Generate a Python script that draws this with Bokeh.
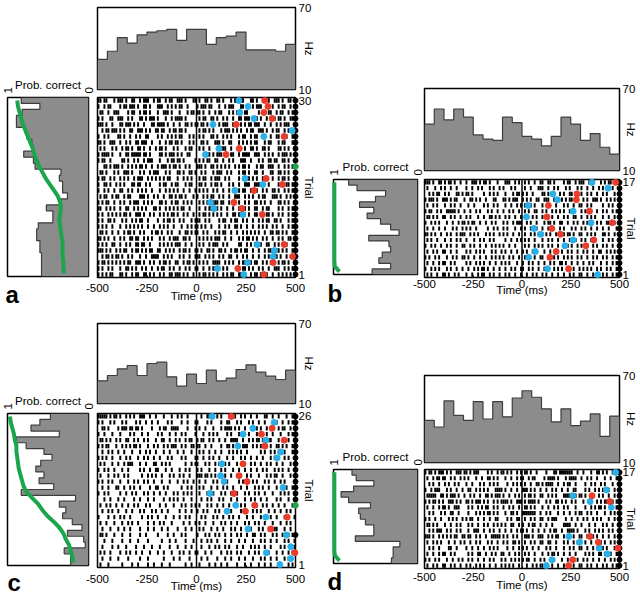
import math
from bokeh.plotting import figure
from bokeh.layouts import row, column
from bokeh.models import FixedTicker, LinearAxis, Range1d, Span
from bokeh.embed import file_html
from bokeh.resources import INLINE

FONT = "Liberation Sans"
FS = "11.5px"
GRAY = "#8c8c8c"
GRAY_LINE = "#3d3d3d"
BLUE = "#29b0e8"
RED = "#eb3c2b"
GREEN = "#1ba64c"

# ---------------- shared axis data ----------------
TIME_TICKS = [-500, -250, 0, 250, 500]
BIN_EDGES = [-500, -450, -400, -350, -300, -250, -200, -150, -100, -50, 0,
             50, 100, 150, 200, 250, 300, 350, 400, 450, 500]
HZ_RANGE = [10, 70]
PROB_TICKS = [0, 1]
SPIKE_BIN_MS = 10
TRIAL_END_MS = 500

# ---------------- panel a ----------------
hist_a = [32, 38, 48, 44, 50, 52, 53, 54, 46, 54, 54, 43, 48, 49, 52, 39, 39, 39, 38, 43]
# listed from top trial (30) down to trial 1
prob_a = [0.83, 0.60, 0.82, 0.89, 0.89, 0.78, 0.76, 0.70, 0.68, 0.80, 0.68, 0.66, 0.34, 0.36, 0.32,
          0.32, 0.26, 0.34, 0.52, 0.44, 0.44, 0.62, 0.64, 0.64, 0.60, 0.60, 0.58, 0.58, 0.58, 0.58]
green_a = [0.88, 0.87, 0.85, 0.83, 0.81, 0.78, 0.75, 0.72, 0.69, 0.67, 0.64, 0.61, 0.57, 0.53, 0.48,
           0.43, 0.38, 0.35, 0.34, 0.35, 0.36, 0.35, 0.34, 0.33, 0.32, 0.32, 0.32, 0.31, 0.31, 0.30]
spikes_a = [
    "##.##...#. ###.#..##. .#.###..#. ##..#.##.. ###.#...## .#..##.#.. ##.#...#.# #.##...##. #..##.#..# ##.#..##..",
    "#..#.##... .#.##.###. #..##.#... ###..#.#.# .##..#.... #.###.##.. .#..#.###. ..##.#..#. ###...#.#. .#.##..#.#",
    ".##..#..## #....#.##. .#.##.#... #..###.#.. .#...#.##. ##.#..#..# .##...#.#. #.#.##.... .#..#.##.. #.##..#.#.",
    "#.#...##.. ###..#.#.. .##.#.###. #...#..#.# ###.#..... .#.##..##. #..#.#..#. .##.###... #.#..#.#.# .##.#..##.",
    "###.#..#.. .##.###.#. #..#...##. ####.#..#. .#..##.#.# #.##.#.... .#.###..## ..#.#.##.# ##..#..#.. #.#.###..#",
    "..#.##.### .#.#..##.. ###.#.#..# #.##..#.## .##.#..... .#.##.#.#. ..#.###.#. #.#..#.##. .###.#..#. ##..#.#.##",
    "#..#.#.... ##.#..#..# .#..##.... #.#..#.#.# .##...#.#. .#.#...##. #..#.#.#.. .#.##..#.# #..#...#.. ##.#.#..#.",
    "##.#..###. .#..#.#..# #.###..#.. .#..#.##.# #.#...#.#. ..##.#...# ##.#..##.. .#.#.#.#.# #...#.##.. .#.##...##",
    ".#.#...#.# ..#.##.#.. ##.#..#..# .##.#...#. #...#.##.. .#.#..#... #.###..#.. .#..#..##. #..##.#... .##.#.#..#",
    "#.####.#.. .#..##.### ##.##.#... .##.#.###. #.#..##... .....##.#. ###.#..##. .#.####..# ##..#.#.#. .#.###.#..",
    "#.##..#... ..##.#..#. #..#.###.. .#...#.##. ##.#.....# .#.#.##..# #..#..#.#. ..###..#.. .#.#..##.# #..##.#...",
    "...##.#.## #.#..#.#.# .##.#..#.. #.###.#.## .#..#.#... ###.#..##. #.#.#.#..# .#.##.#... #.##..###. .#..#.#.##",
    ".##.#...#. #..###.#.. .#.#..#.## #...#.#... ##.#..##.# ..#.#...#. ###..#.#.. .#.##.#..# #..#...##. .##.#.#..#",
    "#.##..#.#. .#.#.#..#. ###..#.#.# .#.#.##... #..#.#.#.. .#.##..#.# ##..#.#... .#.#.##.#. #..#.#..#. .#.##.#..#",
    "#..##.#..# .#.#...##. ##..#.#... .#.##..#.# #...#.##.. .##.#..#.# #.#...#.#. .#..###..# ##.#..#... .#.#.##.#.",
    "#..#.#..#. .##..#.#.. #.#.#..#.. .#..#.#.#. #..#..#..# .#.#.#..#. #..#..#.#. .#.##..#.. #..#.#..## .#..#.#.#.",
    ".#.##..#.# #..#.##... .###.#..#. #..#..##.# .##.#...#. #..#.#.##. .#.#..#..# ##..#.#.#. .#.##...## #.#..#.#..",
    "#.#.##..#. .#.#..#.## #..#.#.#.. .##.#..#.# #..#.#.#.. .#.#.#..## #.##..#.#. .#..#.#..# #.#.#..#.. .##.#.#..#",
    "##..#.#.#. .#..##..#. #.#.#...## .#..#.#.#. #.##..#... .#..#.##.# #.#..#..#. .##.#.#..# #..#.##... .#.#..#.##",
    "#.#..#.#.# .#.##.#..# ##.#..#.#. .#.#.#.##. #..#.#..#. .#.##.#.#. #.#..#..## .##.#.#..# #..#.##.#. .#.#..#.##",
    "#.#..##.#. ..#.#..#.# .##..#.... #..#.##.#. .#.#...#.# ##..#.#... .#.##..#.# #..#.#..#. .#.#.##..# #.#...#.#.",
    "#.#.#..#.. .#..#.#.#. #.#..#..#. .#.#.#..#. ..#..#.#.# #.#.#..#.. .#..#.#..# #.#..#..#. .#.#.#..#. #..#..#.#.",
    ".##.#..#.. #..#.##.#. .#.#...#.# #.#..#.#.. .#..##.#.# #..#.#...# .#.##..#.. #..#.#.#.# .#..#..##. ##.#.#..#.",
    "##.#.#..#. .#.#..##.# #..#.#.#.. .#.#..#.## #..##.#... .#.#.#.#.# ##..#..#.. .#.#.##.#. #..#.#..#. .#.#..##.#",
    "#.#.#..##. .#..#.#..# #.##..#... .#.#.#.#.# ##..#..#.. .#.#..#.## #..#.#.... .##..#.#.# #.#..##..# .#.#.#..#.",
    "###.#.#..# .#.##..#.# #.#.#.##.. ##..#.#.#. .#.##.#..# #.#..##.#. .##.#..#.# #.#.##..#. .#..#.##.# ##.#.#..#.",
    "..#.##.#.# #.#..#.#.. .#..#..### #..#.#.#.. .#.#..#..# ##..#.#.#. .#.#..##.. #..#.#..#. .#..#.#.## #.#..#..#.",
    "#.##.#.#.# .#.#.##..# ##.#..#.#. .#.##.#..# #..#.##.#. .#.#.#..## ##..#.#.#. .#.##..#.# #..#.#.##. .#.##.#..#",
    "#.#..#.#.. .#..##.#.# ..#.#..#.. #.##..#.#. .#..#.#..# #..#..#.## .#.#.#.... #..##.#.#. .#.#..#..# ##..#.#.#.",
    "#.#.#.##.. .##.#..#.# #..##.#.#. .#.#..##.# ##.#.#..#. .#.##.#.#. #..#.#.##. .##.#..#.# #.#.##..#. .#.#.#.#.#",
]
blue_a_trial = [30, 29, 28, 27, 26, 25, 24, 22, 21, 17, 16, 15, 13, 12, 11, 6, 5, 4, 3, 2, 1]
blue_a_ms = [214, 260, 219, 290, 83, 483, 340, 113, 45, 245, 335, 194, 71, 88, 234, 307, 394, 387, 258, 105, 239]
red_a_trial = [30, 29, 28, 27, 26, 24, 22, 21, 17, 16, 15, 13, 12, 11, 6, 4, 3, 2, 1]
red_a_ms = [345, 361, 340, 382, 201, 443, 216, 149, 352, 434, 290, 189, 229, 332, 443, 485, 387, 209, 340]
end_a_trial = [30, 29, 28, 27, 26, 25, 24, 23, 22, 21, 20, 18, 17, 16, 15, 14, 13, 12, 11, 10,
               9, 8, 7, 6, 5, 4, 3, 2, 1]
endg_a_trial = [19]

# ---------------- panel b ----------------
hist_b = [44, 55, 47, 55, 49, 36, 33, 32, 49, 45, 35, 33, 28, 35, 49, 44, 32, 37, 27, 22]
prob_b = [0.82, 0.72, 0.38, 0.50, 0.69, 0.52, 0.60, 0.44, 0.32, 0.22, 0.58, 0.34, 0.32, 0.42, 0.46, 0.32, 0.54]
green_b = [0.99, 0.99, 0.99, 0.99, 0.99, 0.99, 0.99, 0.99, 0.99, 0.99, 0.99, 0.99, 0.99, 0.99, 0.99, 0.985, 0.93]
spikes_b = [
    "###.#..##. #.##.#..#. .#..###.#. ##.#...#.. .###..#.#. .#.#..#..# #..##.#... .#.##..#.# ##..#.#... #.#.##..##",
    ".#...#..#. #..#..#... .#..#..#.# ...#.#..#. #...#.#... .#..#...## #..#..#.#. ..#.#...#. #..#..#..# .#..#.#...",
    "..#.#.##.. #.#...##.# .##.#..... #..#.#.#.. .#...#.##. #.#..#.... ##.#..#..# .#..##.#.. #..#.#..#. .#.#...#.#",
    "#.###.#..# ##.#.##... #..##.#.#. .#...##... ##.#.###.. #.#.#..##. .###..#.#. #.#.##.#.. .#.#..###. #..#.#.#.#",
    ".#..#.#... #..#.#..#. ..#..#.... #.#..#.#.. .#..#..#.# .#..#.#... #..#...#.. .#.#..#..# #..#.#.... .#..#.#..#",
    "#.##..#.#. .#####.#.. #..#..#.#. ..#.#..#.. #..#.#..#. .#.#..##.. #.#..#.#.# .#..#.#... #.#..#..#. .#.#..#.#.",
    ".##.#.#..# #..#.#..#. .#.#...#.. #..##.#.#. .#.#..#..# ..#..#.#.. #..#.#..#. .#.#..##.. #..#.#.#.. .#..#..#.#",
    "#..#.#.#.. .#..#..#.# #.#.##..#. .#..#.#... #.#..#.### ..#.#..#.. .#.##.#..# #..#..#.#. .#.#.#..#. #..##..#..",
    ".#..#..#.. #...#.#..# .#.#..#... ..#..#.#.. #.#...#..# .#..#..#.. #..#.#...# .#...#.#.. #.#..#..#. .#..#...#.",
    "##.#.#..#. .#.#..#.## #..#.#.#.. .#.#.#..#. #.#..#..#. .#..#.#.#. #.#.#..#.. .#.##.#..# #..#.#.#.. .##.#..#.#",
    ".#.#..#... #..#..#.#. .#...#..#. #..#.#.... .#..#..#.# .#.#..#... #..#.#..#. .#..#..#.. #.#..#.#.. .#..#.#..#",
    "#..#.#..#. .#.#..#..# #..#.#..#. .#..#.#.#. #..#..#... .#.#..#.#. #..#.#..#. .#.#.#..#. #..#..#.#. .#.#..#..#",
    ".#..#.#..# #..#..#... .#.#..#.#. #...#.#..# .#..#..#.. #.#..#.#.. .#..#...#. #..#.#..#. .#.#..#..# #..#.#.#..",
    "#.#..#.#.. .#..#.#..# #.#..#..#. .#..#.#.#. #..#.#..#. .#.#..#..# #..#..#.#. .#.#.#..#. #..#..#.#. .#.#..#.#.",
    ".#..#..#.# #..#.#.... .#.#..#.#. #..#..#..# .#.#...#.. #..#.#..#. .#..#.#..# #.#..#..#. .#..#.#... #..#..#.#.",
    "#..#.#.#.. .#.#..#..# ..#..#.#.# #.#..#..#. .#..#.#..# #..#.#..#. .#.#..#.#. #..#..#..# .#.#.#..#. #..#.#..#.",
    ".#.#..#..# #.#..#.#.. .#..#..#.# #..#.#..#. .#.#..#..# ..#..#.#.. #.#..#..#. .#..#.#..# #..#..#.#. .#.#..#.#.",
]
blue_b_trial = [17, 16, 15, 14, 13, 12, 11, 10, 9, 8, 7, 6, 5, 4, 2, 1]
blue_b_ms = [359, 441, 158, 182, 31, 262, 23, 354, 61, 95, 262, 220, 68, 34, 131, 388]
red_b_trial = [17, 15, 14, 13, 12, 11, 10, 9, 8, 7, 6, 5, 4, 2]
red_b_ms = [480, 282, 279, 135, 346, 128, 463, 153, 197, 368, 327, 175, 143, 239]
end_b_trial = [17, 16, 15, 14, 13, 12, 11, 10, 9, 8, 7, 6, 5, 4, 3, 2, 1]
endg_b_trial = []

# ---------------- panel c ----------------
hist_c = [27, 31, 36, 38.5, 31, 40, 41, 30, 23, 32, 25, 35, 27, 29, 35.5, 39, 33.5, 30.5, 28, 35]
prob_c = [0.47, 0.60, 0.71, 0.36, 0.89, 0.77, 0.55, 0.45, 0.59, 0.65, 0.55, 0.61, 0.43, 0.83, 0.16,
          0.36, 0.28, 0.32, 0.20, 0.08, 0.26, 0.06, 0.04, 0.30, 0.22, 0.22]
green_c = [0.97, 0.96, 0.94, 0.92, 0.91, 0.89, 0.89, 0.88, 0.87, 0.86, 0.84, 0.82, 0.80, 0.76, 0.69,
           0.62, 0.57, 0.51, 0.43, 0.36, 0.31, 0.28, 0.24, 0.22, 0.20, 0.19]
spikes_c = [
    "#####.#.## .#..#.#.#. .###..#..# ...#...#.. #.#..#.... ..#..##.#. #.#...#..# ..#.#..#.. #...##..#. .#...#..##",
    "#.#...#.#. ..#.#....# .#..#..#.. #....#.#.. ..#..#...# #....#.#.. ..#..##... #.#...#.#. .#..#..... #..#..#.#.",
    "..##.#.... #.###.##.# #.#....#.. .#.##..### #....#...# .#..#...#. ..#.####.# .#..#..##. #.#..#.#.. .#.##..#.#",
    "#..#...#.. .#....#.#. ..#..#.... #.#...#..# ..#.#....# ...#..#.#. #....#.#.. .#.#..#... #..#.#..#. ..#...#.#.",
    ".##.#.#..# .#..##..#. #..#.#...# ..##..#..# .#..#.##.. #.##..#.#. .#..#..### #..#..#.#. ##.#..##.. .#.#..#..#",
    "#.#.##...# ..#.#.#.## .#...#..#. #..#.#.### ..#.#..##. ##..#..#.. ..#..##.#. .#.###..#. #.#..#.#.. ##.#.#..#.",
    "..#..#.#.. #..#...#.. .#..#.#..# ...#..#... #..#...#.. .#.#..#..# ..#...#.#. #.#..#.... ..#.#..#.# .#..#...#.",
    "#.#.#..#.. .#..#.#... #..#.#..#. .#...#.#.. ..#.#....# #..#..#.#. .#...#..#. ..#.#..#.. #..#...#.# .#..#.#...",
    ".#.#...#.. #..#.###.. .#..#...## ..#.#.#... ....#..#.# #...#.#..# .#..#.#... #.##...#.# ..#..#.#.. #..#...#..",
    "#..#.#..#. ..#..#.... .#.#..#..# #...#..#.. .#..#.#... #.#...#..# ..#.#...#. .#..#..#.. #..#.#...# .#.#..#...",
    ".#...#..#. #..#.#.... ..#..#.#.# ..#...#.#. .#.#..#... ###.##.#.# .#..#..#.. #.#..#.#.. .#...#.#.# #..#...#..",
    "#.#..#.#.. .#...#..#. #..#.#..#. ..#...#... #..#.#..#. .#..#...#. #..#.#.... .#.#..#.#. #...#.#..# ..#.#....#",
    "..#..#...# #..#..#.#. .#....#..# #..#.#.... ..#..#.#.. .#.#...#.. #..#.#..#. ..#..#...# .#.#..#... #..#.#..#.",
    "#..#.#.... .#..#..#.# ...#.#..#. .#..#...#. #..#.#.#.. .#...#..#. ..#.#..#.. #...#.#..# .#..#...#. ..#.#.#..#",
    "...#..#... #..#....#. .#...#..#. ...#..#.#. #..#...#.. ..#..#.#.. .#.#...#.. #...#..#.# ..#..#.... #.#...#..#",
    ".#..#.#..# ..#..#..#. #...#.#... .#..#...#. ..#.#..#.# .#...#.#.. #..#..#..# ..#.#...#. #..#.#..#. .#..#...#.",
    "..#..#.#.. #...#..#.. .#.#...#.# ..#..#.... .#..#..#.. #..#.#...# .#...#.#.. ..#..#..#. #.#...#..# ..#..#.#..",
    "#....#..#. .#.#..#... ..#..#.#.. #...#...#. .#..#.#... ..#.#...#. #..#..#.#. .#...#..#. ..#.#..#.. #...#.#..#",
    ".#..#...#. ..#..#.#.. #....#..#. .#.#...#.. ...#..#..# .#..#...#. ..#.#..#.. #...#.#..# .#..#...#. ..#..#.#..",
    "..#...#... #..#..#... .#...#..#. ..#..#.... #...#..#.. .#.#...#.. #..#...#.# ..#..#.#.. .#.#..#..# #...#..#..",
    ".##.#...#. ..#...#... .#..#..... #....#..#. ..#.#..... #...#.#..# .#..#..#.. #.#..#..## ..#.#...#. #..#..#.#.",
    "...#...#.. ..#...#... #....#.... ..#...#..# ....#...#. ..#..#.#.. #...#..#.. .#..#...#. ..#.#..#.. #...#.#..#",
    "..#....#.. #...#....# ...#...#.. .#....#... #...#..#.. ..#...#..# .#..#.#... #..#...#.# .#..#..#.. ..#.#..#.#",
    ".#.#..#... .#..#.#..# ..#...#... #..#...#.. .#.#..#..# #...#..#.. ..#..#.#.. #.#...#..# .#..#.#... #..#..#.#.",
    "..#...#... #....#.... .#...#.... ...#....#. .#....#... ..#..#.... #...#..#.. .#..#...#. ..#.#..#.. #...#.#...",
    ".#...#.... ..#....#.. #....#..#. ..#...#... ....#..#.. .#....#..# ..#..#.... #...#..#.. .#..#..#.. ..#...#.#.",
]
blue_c_trial = [26, 25, 24, 23, 22, 21, 20, 19, 18, 16, 15, 14, 13, 11, 10, 9, 7, 6, 4, 3, 2, 1]
blue_c_ms = [79, 392, 285, 235, 350, 209, 426, 407, 128, 122, 139, 437, 69, 198, 154, 350, 260, 454, 476, 353, 476, 421]
red_c_trial = [26, 24, 23, 22, 21, 18, 16, 15, 13, 11, 10, 9, 7, 3]
red_c_ms = [176, 382, 328, 443, 345, 235, 215, 255, 189, 294, 247, 458, 375, 497]
end_c_trial = [26, 25, 24, 23, 22, 21, 20, 19, 18, 17, 16, 15, 14, 13, 12, 6]
endg_c_trial = [11]

# ---------------- panel d ----------------
hist_d = [39, 34.5, 52.5, 42.5, 39, 52, 40, 52, 41.5, 54.5, 59.5, 55, 47, 38, 47, 35.5, 38.5, 43.5, 28, 42]
prob_d = [0.78, 0.73, 0.52, 0.76, 0.91, 0.82, 0.56, 0.70, 0.68, 0.62, 0.52, 0.52, 0.74, 0.21, 0.29, 0.29, 0.31]
green_d = [0.99, 0.99, 0.99, 0.99, 0.99, 0.99, 0.99, 0.99, 0.99, 0.99, 0.99, 0.99, 0.99, 0.99, 0.99, 0.985, 0.93]
spikes_d = [
    "#.##.#.### .#.#..###. ##.#.###.. ..#.#..#.# #.#.#..#.# .##.#..#.. ..#...##.# ######..#. .#...#..## .#.#..#.##",
    ".#..#.##.# #..#.#..#. #.#...#..# ..##.#.#.. .#..#..#.# #..#.##... .#.####.#. ..#.####.. #..#.#..#. ..#..#..#.",
    "..#.#..#.. #.#..#.#.. .#..#...#. #..#.#.#.. ..#..#.#.# .#..#..##. #.####..#. .#.##..#.. ..#..#.#.. #.#...#..#",
    "#..#.###.. .#.#..#..# ..##..#.#. #.#...#### .#..#..#.. ###.#.#..# ..#..#.#.. #..#..##.. ..#.#..#.# .#..#..#..",
    ".#####..## .#.###.#.. #..#.#..#. .##.#.###. #..#..#.#. .#.##.#..# #..#.#.#.. .####..#.# #.#..##..# .#..#..#.#",
    "#.#.##.#.# ..###.#.#. .##.#.###. #.#..#.#.# ###.#..### .#.####.#. ..#.#..##. #.#..#.#.. .#..##..#. #.##..#.#.",
    ".#..#..#.# #.#..###.. ..#.#..#.# .##..#.#.. #..#.#..#. .##.#.#... #..#..#.#. .#.#...#.. ..#..#.#.# #.#..#..#.",
    "..#.#...#. #..##..#.. ..#...#.#. #.##.#.#.. .#..##.#.. #######..# ..#.#...#. .#..#..#.# #..#.#..#. ..#..#.#..",
    "#.#..#..#. ..#.#.#..# .#.##..#.. #..#..##.. ..#.#..##. .#..#.#..# #..#.###.. ..#..#..#. .#.#..#.#. #...#..#.#",
    ".##.#.#... #..#..#.#. ..#.#..#.. #.#..#.#.# .#..##..#. #..#.##..# ..#..#.... .####..#.. #...#..#.. .#.#..#..#",
    "..#.#.###. .#.#..#.#. ..#..###.. #..#.#..#. .#..#..#.# #.#..#..#. .#..#.##.. #..####.#. ..#.#..#.# .#..#.#...",
    "###.#..#.# .#.#.##..# #.##..#.#. .#..#####. #.#..#.#.. .###.#..## #..#.#.##. .#.#..#..# #..##.#.#. .#..#..#.#",
    ".#..#.#.#. ..#..#..#. #..#..#.#. ..#.#..#.. #.#..##.#. .#..#.#..# #..##..#.. .#.#..#.#. ..#..#..#. #.#..#.#..",
    "..#.#..#.. ..##..#... .#..#..#.. #..#.#.#.. ..#..#..#. #.#..#..#. ..#.#..#.. .#..#.#..# #..#..#.#. .#.#...#.#",
    ".#..#..#.# #..#.#.... ..#.#..##. .#..#.#..# #..#..#.#. .#.#..#... #..#.##.#. .#..#..#.. ..#.#.#..# #.#..#..#.",
    "#.#..#.#.. .#..#..#.# ..#.#..#.. #..#.#...# .#..#.#.#. #.##..#..# .#..#.#... #..#..#.#. .#.#..#..# ..#..#.#..",
    ".#..#.#..# #..#.#..#. .#.#..#.#. #..#..#..# .#.#.#..#. ..#..#.#.# #.#..#..#. .#..#.#..# #..#.#..#. .#.#..#.#.",
]
blue_d_trial = [17, 14, 13, 12, 11, 6, 5, 4, 3, 2, 1]
blue_d_ms = [480, 433, 260, 349, 458, 240, 296, 396, 438, 153, 125]
red_d_trial = [13, 12, 6, 5, 4, 2, 1]
red_d_ms = [359, 450, 349, 391, 492, 260, 239]
end_d_trial = [17, 16, 15, 14, 13, 12, 11, 10, 9, 8, 7, 6, 5, 4, 3, 2, 1]
endg_d_trial = []

# ---------------- layout geometry (pixels) ----------------
OVERLAP = 20      # horizontal overlap of the plot column onto the prob panel's border
VPAD = 8          # extra border given to PSTH bottom / raster top, overlapped back
GEO_A = dict(pw=100, ph=310, pl=7, pr=12, pt=97, pb=33, cw=240, cl=17, cr=25,
             hh=93, ht=7, hb=4, rh=217, rt=4, rb=33, ldx=-2, lso=5, rso=-11, tso=6, xso=-5)
GEO_B = dict(pw=108, ph=310, pl=13, pr=11, pt=179, pb=33, cw=232, cl=16, cr=17,
             hh=174, ht=88, hb=4, rh=136, rt=5, rb=33, ldx=-6, lso=7, rso=-13, tso=2, xso=-7)
GEO_C = dict(pw=100, ph=286, pl=7, pr=12, pt=103, pb=29, cw=240, cl=17, cr=25,
             hh=98, ht=13, hb=5, rh=188, rt=5, rb=29, ldx=0, lso=2, rso=-11, tso=7, xso=-6)
GEO_D = dict(pw=108, ph=286, pl=13, pr=11, pt=159, pb=28, cw=232, cl=16, cr=17,
             hh=156, ht=65, hb=4, rh=130, rt=3, rb=28, ldx=-6, lso=4, rso=-13, tso=4, xso=-5)


def style_fig(p, transparent):
    p.grid.visible = False
    p.outline_line_color = "black"
    p.outline_line_width = 1.5
    p.background_fill_color = "white"
    p.border_fill_color = None if transparent else "white"


def style_axis(ax, standoff, label_standoff=0):
    ax.axis_line_color = None
    ax.major_tick_line_color = None
    ax.minor_tick_line_color = None
    ax.major_tick_in = 0
    ax.major_tick_out = 0
    ax.minor_tick_in = 0
    ax.minor_tick_out = 0
    ax.major_label_standoff = standoff
    ax.major_label_text_font = FONT
    ax.major_label_text_font_size = FS
    ax.major_label_text_color = "#000000"
    ax.axis_label_text_font = FONT
    ax.axis_label_text_font_size = FS
    ax.axis_label_text_font_style = "normal"
    ax.axis_label_text_color = "#000000"
    ax.axis_label_standoff = label_standoff


def make_panel(letter, hist, prob, green, spikes, b_tr, b_ms, r_tr, r_ms, e_tr, eg_tr, g):
    n = len(prob)
    trials = [n - i for i in range(n)]  # top-down trial numbers

    # ---- probability-correct panel ----
    pp = figure(width=g["pw"], height=g["ph"], x_range=Range1d(1, 0), y_range=Range1d(0.5, n + 0.5),
                output_backend="svg", toolbar_location=None, x_axis_location=None, y_axis_location=None,
                title=letter, title_location="below",
                min_border_left=g["pl"], min_border_right=g["pr"], min_border_top=g["pt"],
                min_border_bottom=g["pb"])
    style_fig(pp, False)
    pp.title.text_font = FONT
    pp.title.text_font_size = "24px"
    pp.title.text_font_style = "bold"
    pp.title.text_color = "#000000"
    pp.title.align = "left"
    pp.title.offset = g["ldx"]
    pp.title.standoff = g["lso"]
    # bottom-up step area (trial 1 .. n)
    prob_bu = prob[::-1]
    y_edges = [t - 0.5 for t in range(1, n + 1)] + [n + 0.5]
    pp.harea_step(y=y_edges, x1=0, x2=prob_bu + [prob_bu[-1]], step_mode="after", fill_color=GRAY)
    ox, oy = [], []
    for t, v in zip(trials, prob):
        ox += [v, v]
        oy += [t + 0.5, t - 0.5]
    pp.line(ox, oy, line_color=GRAY_LINE, line_width=1.2)
    pp.line(green, trials, line_color=GREEN, line_width=4, level="overlay")
    ax = LinearAxis(ticker=FixedTicker(ticks=PROB_TICKS), axis_label="Prob. correct")
    style_axis(ax, 4, -7)
    ax.major_label_orientation = math.pi / 2
    pp.add_layout(ax, "above")

    # ---- PSTH ----
    ph = figure(width=g["cw"], height=g["hh"] + VPAD, x_range=Range1d(TIME_TICKS[0], TIME_TICKS[-1]),
                y_range=Range1d(HZ_RANGE[0], HZ_RANGE[1]),
                output_backend="svg", toolbar_location=None, x_axis_location=None, y_axis_location=None,
                min_border_left=g["cl"], min_border_right=g["cr"], min_border_top=g["ht"],
                min_border_bottom=g["hb"] + VPAD)
    style_fig(ph, True)
    ph.varea_step(x=BIN_EDGES, y1=HZ_RANGE[0], y2=hist + [hist[-1]], step_mode="after", fill_color=GRAY)
    ph.step(BIN_EDGES, hist + [hist[-1]], mode="after", line_color=GRAY_LINE, line_width=1.2)
    ay = LinearAxis(ticker=FixedTicker(ticks=HZ_RANGE), axis_label="Hz")
    style_axis(ay, 3, g["rso"])
    ph.add_layout(ay, "right")

    # ---- raster ----
    pr = figure(width=g["cw"], height=g["rh"] + VPAD, x_range=Range1d(TIME_TICKS[0], TIME_TICKS[-1]),
                y_range=Range1d(0.5, n + 0.5),
                output_backend="svg", toolbar_location=None, x_axis_location=None, y_axis_location=None,
                min_border_left=g["cl"], min_border_right=g["cr"], min_border_top=g["rt"] + VPAD,
                min_border_bottom=g["rb"], margin=(-2 * VPAD, 0, 0, 0))
    style_fig(pr, True)
    L, R, B, T = [], [], [], []
    for trial, s in zip(trials, spikes):
        s = s.replace(" ", "")
        for i, ch in enumerate(s):
            t0 = TIME_TICKS[0] + SPIKE_BIN_MS * i
            if ch == "#" and t0 < TIME_TICKS[-1]:
                L.append(t0)
                R.append(t0 + SPIKE_BIN_MS)
                B.append(trial - 0.36)
                T.append(trial + 0.36)
    pr.quad(left=L, right=R, bottom=B, top=T, fill_color="black", line_color=None)
    pr.add_layout(Span(location=0, dimension="height", line_color="black", line_width=1.5))
    pr.scatter([TRIAL_END_MS] * len(e_tr), e_tr, size=5, color="black", level="overlay")
    if eg_tr:
        pr.scatter([TRIAL_END_MS] * len(eg_tr), eg_tr, size=5.5, color=GREEN, level="overlay")
    pr.scatter(b_ms, b_tr, size=6, color=BLUE, level="overlay")
    pr.scatter(r_ms, r_tr, size=6, color=RED, level="overlay")

    bx = LinearAxis(ticker=FixedTicker(ticks=TIME_TICKS), axis_label="Time (ms)",
                    major_label_overrides={v: str(v) for v in TIME_TICKS})
    style_axis(bx, g["tso"], g["xso"])
    bx.major_tick_line_color = "black"
    bx.major_tick_line_width = 1
    bx.major_tick_in = 2
    pr.add_layout(bx, "below")
    ry = LinearAxis(ticker=FixedTicker(ticks=[1, n]), axis_label="Trial")
    style_axis(ry, 3, g["rso"])
    pr.add_layout(ry, "right")

    right_col = column(ph, pr, margin=(0, 0, 0, -OVERLAP))
    return row(pp, right_col)


pa = make_panel("a", hist_a, prob_a, green_a, spikes_a, blue_a_trial, blue_a_ms, red_a_trial, red_a_ms,
                end_a_trial, endg_a_trial, GEO_A)
pb = make_panel("b", hist_b, prob_b, green_b, spikes_b, blue_b_trial, blue_b_ms, red_b_trial, red_b_ms,
                end_b_trial, endg_b_trial, GEO_B)
pc = make_panel("c", hist_c, prob_c, green_c, spikes_c, blue_c_trial, blue_c_ms, red_c_trial, red_c_ms,
                end_c_trial, endg_c_trial, GEO_C)
pd = make_panel("d", hist_d, prob_d, green_d, spikes_d, blue_d_trial, blue_d_ms, red_d_trial, red_d_ms,
                end_d_trial, endg_d_trial, GEO_D)

root = column(row(pa, pb), row(pc, pd))

open("out.html", "w").write(file_html(root, INLINE))
